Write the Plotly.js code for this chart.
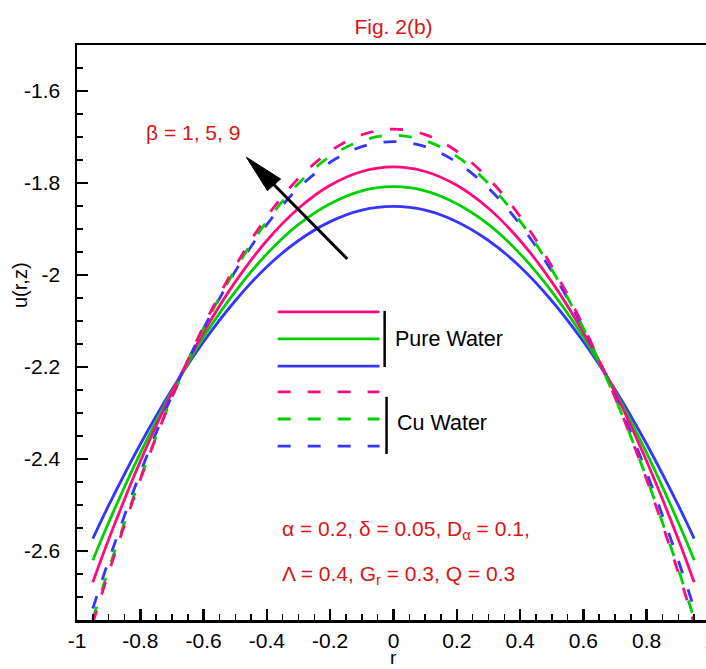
<!DOCTYPE html>
<html><head><meta charset="utf-8">
<script src="https://cdn.plot.ly/plotly-3.0.1.min.js"></script>
<style>html,body{margin:0;padding:0;overflow:hidden;background:#fff}#chart{width:720px;height:669px}</style>
</head><body><div id="chart"></div>
<script>
// radial coordinate
const r = [-0.95,-0.9,-0.8,-0.7,-0.6,-0.5,-0.4,-0.3,-0.2,-0.1,0,0.1,0.2,0.3,0.4,0.5,0.6,0.7,0.8,0.9,0.95];
// Pure water, beta = 1, 5, 9
const pureBeta1 = [-2.573,-2.501,-2.368,-2.249,-2.145,-2.056,-1.982,-1.925,-1.884,-1.859,-1.851,-1.859,-1.884,-1.925,-1.982,-2.056,-2.145,-2.249,-2.368,-2.501,-2.573];
const pureBeta5 = [-2.620,-2.538,-2.387,-2.253,-2.135,-2.036,-1.954,-1.890,-1.845,-1.817,-1.808,-1.817,-1.845,-1.890,-1.954,-2.036,-2.135,-2.253,-2.387,-2.538,-2.620];
const pureBeta9 = [-2.668,-2.575,-2.405,-2.255,-2.125,-2.015,-1.925,-1.855,-1.805,-1.775,-1.765,-1.775,-1.805,-1.855,-1.925,-2.015,-2.125,-2.255,-2.405,-2.575,-2.668];
// Cu water, beta = 1, 5, 9
const cuBeta1 = [-2.725,-2.621,-2.430,-2.262,-2.116,-1.992,-1.890,-1.811,-1.755,-1.721,-1.710,-1.721,-1.755,-1.811,-1.890,-1.992,-2.116,-2.262,-2.430,-2.621,-2.725];
const cuBeta5 = [-2.748,-2.640,-2.442,-2.267,-2.116,-1.988,-1.883,-1.801,-1.742,-1.708,-1.696,-1.708,-1.742,-1.801,-1.883,-1.988,-2.116,-2.267,-2.442,-2.640,-2.748];
const cuBeta9 = [-2.757,-2.647,-2.445,-2.266,-2.111,-1.981,-1.873,-1.790,-1.731,-1.695,-1.683,-1.695,-1.731,-1.790,-1.873,-1.981,-2.111,-2.266,-2.445,-2.647,-2.757];
// ticks
const xTickVals = [-1,-0.8,-0.6,-0.4,-0.2,0,0.2,0.4,0.6,0.8,1];
const xTickText = ['-1','-0.8','-0.6','-0.4','-0.2','0','0.2','0.4','0.6','0.8','1'];
const yTickVals = [-2.6,-2.4,-2.2,-2,-1.8,-1.6];
const yTickText = ['-2.6','-2.4','-2.2','-2','-1.8','-1.6'];

const PINK = '#ff0a7e', GREEN = '#00d000', BLUE = '#3535ff', RED = '#d81414';
const DASH = '13px,17px';
const LW = 2.8;

function tr(y, color, dash){
  return {x: r, y: y, type:'scatter', mode:'lines',
    line:{color: color, width: LW, dash: dash || 'solid', shape:'spline', smoothing:1},
    hoverinfo:'skip'};
}
const data = [
  tr(pureBeta1, BLUE), tr(pureBeta5, GREEN), tr(pureBeta9, PINK),
  tr(cuBeta1, BLUE, DASH), tr(cuBeta5, GREEN, DASH), tr(cuBeta9, PINK, DASH)
];

function legLine(y, color, dash){
  return {type:'line', xref:'x', yref:'y', x0:-0.366, x1:-0.044, y0:y, y1:y,
    line:{color: color, width: LW, dash: dash || 'solid'}};
}
const shapes = [
  legLine(-2.080, PINK), legLine(-2.139, GREEN), legLine(-2.198, BLUE),
  legLine(-2.254, PINK, DASH), legLine(-2.313, GREEN, DASH), legLine(-2.372, BLUE, DASH),
  {type:'line', xref:'x', yref:'y', x0:-0.028, x1:-0.028, y0:-2.078, y1:-2.200, line:{color:'#000', width:2.5}},
  {type:'line', xref:'x', yref:'y', x0:-0.022, x1:-0.022, y0:-2.265, y1:-2.389, line:{color:'#000', width:2.5}},
  // arrow shaft
  {type:'line', xref:'x', yref:'y', x0:-0.146, y0:-1.9652, x1:-0.3776, y1:-1.8039, line:{color:'#000', width:3}},
  // arrow head
  {type:'path', xref:'x', yref:'y', path:'M -0.4647 -1.7441 L -0.3565 -1.7913 L -0.3984 -1.8165 Z',
    fillcolor:'#000', line:{color:'#000', width:1}}
];

const FONT = 'Liberation Sans, Arial, Helvetica, sans-serif';
const annotations = [
  {xref:'x', yref:'y', x:-0.634, y:-1.691, text:'β = 1, 5, 9', showarrow:false,
    font:{family:FONT, size:21, color:RED}},
  {xref:'x', yref:'y', x:-0.002, y:-2.139, xanchor:'left', text:'Pure Water', showarrow:false,
    font:{family:FONT, size:21.5, color:'#000'}},
  {xref:'x', yref:'y', x:0.004, y:-2.322, xanchor:'left', text:'Cu Water', showarrow:false,
    font:{family:FONT, size:21.5, color:'#000'}},
  {xref:'x', yref:'y', x:-0.358, y:-2.554, xanchor:'left', text:'α = 0.2, δ = 0.05, D<sub>α</sub> = 0.1,', showarrow:false,
    font:{family:FONT, size:21, color:RED}},
  {xref:'x', yref:'y', x:-0.358, y:-2.652, xanchor:'left', text:'Λ = 0.4, G<sub>r</sub> = 0.3, Q = 0.3', showarrow:false,
    font:{family:FONT, size:21, color:RED}},
  // y-axis title
  {xref:'paper', yref:'paper', x:(20-77)/633, y:(620-285)/575, xanchor:'center', yanchor:'middle',
    text:'u(r,z)', textangle:-90, showarrow:false, font:{family:FONT, size:20, color:'#000'}},
  // x-axis title
  {xref:'paper', yref:'paper', x:0.5, y:(620-669)/575, xanchor:'center', yanchor:'bottom',
    text:'r', showarrow:false, borderpad:0, font:{family:FONT, size:19, color:'#000'}}
];

const layout = {
  width:720, height:669,
  margin:{l:77, r:10, t:45, b:49, pad:0},
  paper_bgcolor:'#fff', plot_bgcolor:'#fff',
  showlegend:false,
  font:{family:FONT, size:21, color:'#000'},
  title:{text:'Fig. 2(b)', font:{family:FONT, size:21, color:RED}, x:0.5, xref:'paper', xanchor:'center',
    y:1-27/669, yref:'container', yanchor:'middle'},
  xaxis:{range:[-1,1], tickmode:'array', tickvals:xTickVals, ticktext:xTickText,
    ticks:'inside', ticklen:11, tickwidth:2.5, tickcolor:'#000',
    showline:true, linewidth:2.5, linecolor:'#000', mirror:true,
    showgrid:false, zeroline:false, automargin:false,
    tickfont:{family:FONT, size:21, color:'#000'},
    minor:{ticks:'inside', ticklen:6, tickwidth:1.5, tickcolor:'#000', dtick:0.05, tick0:0, showgrid:false}},
  yaxis:{range:[-2.75,-1.5], tickmode:'array', tickvals:yTickVals, ticktext:yTickText,
    ticks:'inside', ticklen:11, tickwidth:2.5, tickcolor:'#000',
    showline:true, linewidth:2.5, linecolor:'#000', mirror:true,
    showgrid:false, zeroline:false, automargin:false, ticklabelstandoff:10,
    tickfont:{family:FONT, size:21, color:'#000'},
    minor:{ticks:'inside', ticklen:6, tickwidth:1.5, tickcolor:'#000', dtick:0.05, tick0:0, showgrid:false}},
  shapes: shapes,
  annotations: annotations
};
Plotly.newPlot('chart', data, layout, {displayModeBar:false, staticPlot:true});
</script>
</body></html>
